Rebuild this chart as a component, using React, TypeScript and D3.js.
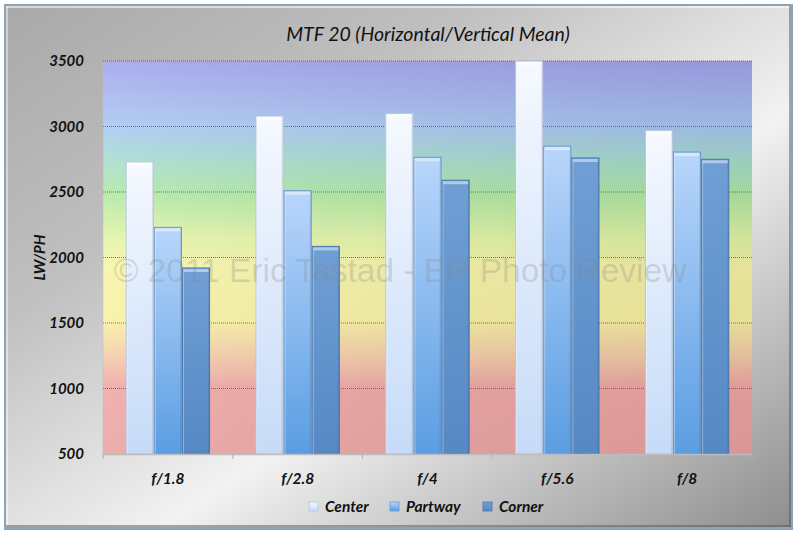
import React from 'react';
import * as d3 from 'd3';

const categories = ['f/1.8', 'f/2.8', 'f/4', 'f/5.6', 'f/8'];
const seriesNames = ['Center', 'Partway', 'Corner'];
const centerValues = [2730, 3080, 3100, 3500, 2970];
const partwayValues = [2230, 2510, 2765, 2850, 2805];
const cornerValues = [1920, 2085, 2590, 2760, 2750];
const yTicks = [500, 1000, 1500, 2000, 2500, 3000, 3500];
const titleText = 'MTF 20 (Horizontal/Vertical Mean)';
const yAxisTitle = 'LW/PH';
const watermark = '\u00A9 2011 Eric Tastad - ER Photo Review';

const seriesValues = [centerValues, partwayValues, cornerValues];

const W = 800;
const H = 536;
const plot = { left: 103, right: 752, top: 61, bottom: 454 };

const seriesGrad = [
  { id: 'gCenter', top: '#f6f9ff', bottom: '#c6dbf8', stroke: '#b4c6de' },
  { id: 'gPartway', top: '#b9d6fb', bottom: '#5a9de2', stroke: '#6a98cc' },
  { id: 'gCorner', top: '#6f9fd4', bottom: '#5688c4', stroke: '#4a77ad' },
];

const font = 'Lato, "Open Sans", sans-serif';

export default function App() {
  const x0 = d3.scaleBand<string>().domain(categories).range([plot.left, plot.right]).padding(0);
  const bw = x0.bandwidth();
  const gap = bw * 0.35;
  const x1 = d3.scaleBand<string>().domain(seriesNames).range([gap / 2, bw - gap / 2]).padding(0);
  const y = d3.scaleLinear().domain([500, 3500]).range([plot.bottom, plot.top]);

  const tickXs = categories.map((c) => x0(c) as number).concat([plot.right]);

  return (
    <svg width={W} height={H} style={{ position: 'absolute', left: 0, top: 0, display: 'block' }}>
      <defs>
        <linearGradient id="panelGrad" x1="0" y1="0" x2="1" y2="1">
          <stop offset="0" stopColor="#a9a9a9" />
          <stop offset="0.3" stopColor="#c0c0c0" />
          <stop offset="0.6" stopColor="#f2f2f2" />
          <stop offset="0.78" stopColor="#c4c4c4" />
          <stop offset="1" stopColor="#8e8e8e" />
        </linearGradient>
        <linearGradient id="plotGrad" x1="0" y1="0" x2="0" y2="1">
          <stop offset="0" stopColor="#a2a2ec" />
          <stop offset="0.17" stopColor="#a9c8f2" />
          <stop offset="0.25" stopColor="#a6dcce" />
          <stop offset="0.34" stopColor="#b0e8a4" />
          <stop offset="0.45" stopColor="#e2f4a6" />
          <stop offset="0.52" stopColor="#f6f4a6" />
          <stop offset="0.66" stopColor="#f8f0a2" />
          <stop offset="0.75" stopColor="#f4cca8" />
          <stop offset="0.83" stopColor="#eea6a4" />
          <stop offset="1" stopColor="#eaa2a2" />
        </linearGradient>
        <linearGradient id="plotShade" x1="0" y1="0" x2="1" y2="0">
          <stop offset="0" stopColor="#ffffff" stopOpacity="0.12" />
          <stop offset="1" stopColor="#000000" stopOpacity="0.07" />
        </linearGradient>
        {seriesGrad.map((g) => (
          <linearGradient key={g.id} id={g.id} x1="0" y1="0" x2="0" y2="1">
            <stop offset="0" stopColor={g.top} />
            <stop offset="1" stopColor={g.bottom} />
          </linearGradient>
        ))}
      </defs>

      {/* panel */}
      <rect x={4} y={4} width={789} height={526} fill="#8ea2bc" />
      <rect x={6} y={6} width={785} height={521} fill="url(#panelGrad)" />
      <line x1={6} y1={7} x2={791} y2={7} stroke="#ffffff" strokeOpacity={0.55} strokeWidth={2} />
      <line x1={7} y1={6} x2={7} y2={527} stroke="#ffffff" strokeOpacity={0.45} strokeWidth={2} />
      <line x1={6} y1={526} x2={791} y2={526} stroke="#555" strokeOpacity={0.5} strokeWidth={2} />
      <line x1={790} y1={6} x2={790} y2={527} stroke="#555" strokeOpacity={0.5} strokeWidth={2} />

      {/* title */}
      <text x={W / 2 + 28} y={41} textAnchor="middle" fontFamily={font} fontStyle="italic" fontSize={19.5} fill="#111">
        {titleText}
      </text>

      {/* plot background */}
      <rect x={plot.left} y={plot.top} width={plot.right - plot.left} height={plot.bottom - plot.top} fill="url(#plotGrad)" />
      <rect x={plot.left} y={plot.top} width={plot.right - plot.left} height={plot.bottom - plot.top} fill="url(#plotShade)" />

      {/* gridlines */}
      {yTicks.filter((t) => t > 500).map((t) => (
        <line key={t} x1={plot.left} x2={plot.right} y1={y(t)} y2={y(t)} stroke="#555" strokeWidth={1} strokeDasharray="1,1" strokeOpacity={0.8} />
      ))}

      {/* bars */}
      {categories.map((c, ci) => (
        <g key={c} transform={`translate(${x0(c)},0)`}>
          {seriesNames.map((s, si) => {
            const v = seriesValues[si][ci];
            const bx = x1(s) as number;
            const w = x1.bandwidth();
            const by = y(v);
            const h = plot.bottom - by;
            const g = seriesGrad[si];
            return (
              <g key={s}>
                <rect x={bx + 0.5} y={by} width={w - 1} height={h} fill={`url(#${g.id})`} stroke={g.stroke} strokeWidth={1} />
                <rect x={bx + 1.5} y={by + 1} width={w - 3} height={3} fill="#ffffff" fillOpacity={0.45} />
                <line x1={bx + 1.5} x2={bx + 1.5} y1={by + 1} y2={plot.bottom} stroke="#ffffff" strokeOpacity={0.35} />
                <line x1={bx + w - 1.5} x2={bx + w - 1.5} y1={by + 1} y2={plot.bottom} stroke="#000" strokeOpacity={0.08} />
              </g>
            );
          })}
        </g>
      ))}

      {/* watermark */}
      <text x={400} y={282} textAnchor="middle" fontFamily='"Liberation Sans", Arial, sans-serif' fontSize={33.5} fill="#8a8a8a" fillOpacity={0.28}>
        {watermark}
      </text>

      {/* x axis */}
      <line x1={plot.left} x2={plot.right} y1={plot.bottom + 0.5} y2={plot.bottom + 0.5} stroke="#bdbdbd" strokeWidth={1.5} />
      {tickXs.map((tx, i) => (
        <line key={i} x1={tx} x2={tx} y1={plot.bottom} y2={plot.bottom + 5} stroke="#b0b0b0" strokeWidth={1} />
      ))}
      <line x1={plot.left} x2={plot.left} y1={plot.top} y2={plot.bottom + 5} stroke="#bdbdbd" strokeOpacity={0.5} />

      {/* y tick labels */}
      {yTicks.map((t) => (
        <text key={t} x={84} y={y(t) + 5} textAnchor="end" fontFamily={font} fontStyle="italic" fontWeight="bold" fontSize={15} fill="#111">
          {t}
        </text>
      ))}
      <text transform={`translate(45,${(plot.top + plot.bottom) / 2}) rotate(-90)`} textAnchor="middle" fontFamily={font} fontStyle="italic" fontWeight="bold" fontSize={15} fill="#111">
        {yAxisTitle}
      </text>

      {/* x labels */}
      {categories.map((c) => (
        <text key={c} x={(x0(c) as number) + bw / 2} y={484} textAnchor="middle" fontFamily={font} fontStyle="italic" fontWeight="bold" fontSize={15.5} fill="#111">
          {c}
        </text>
      ))}

      {/* legend */}
      {seriesNames.map((s, i) => {
        const lx = [309, 390, 483][i];
        const g = seriesGrad[i];
        return (
          <g key={s}>
            <rect x={lx} y={502} width={9} height={9} fill={`url(#${g.id})`} stroke={g.stroke} strokeWidth={0.8} />
            <text x={lx + 16} y={512} fontFamily={font} fontStyle="italic" fontWeight="bold" fontSize={15.5} fill="#111">
              {s}
            </text>
          </g>
        );
      })}
    </svg>
  );
}
